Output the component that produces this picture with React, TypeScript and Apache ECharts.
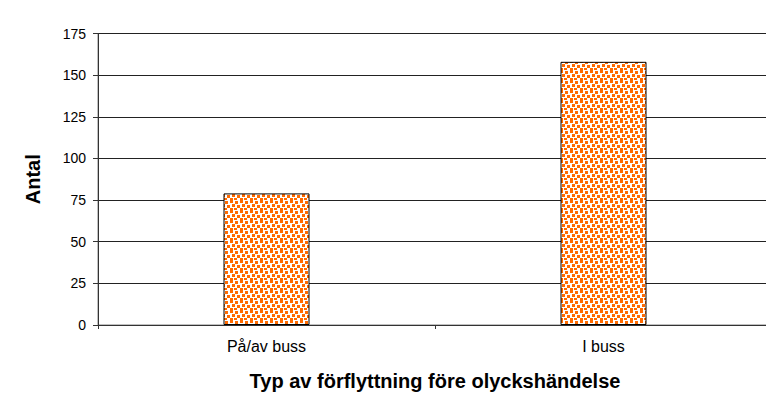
import React, { useEffect, useRef } from "react";
import * as echarts from "echarts";

const categories = ["På/av buss", "I buss"];
const values = [79, 158];
const yMin = 0;
const yMax = 175;
const yInterval = 25;
const xTitle = "Typ av förflyttning före olyckshändelse";
const yTitle = "Antal";

function makePattern(): HTMLCanvasElement {
  const c = document.createElement("canvas");
  c.width = 10;
  c.height = 10;
  const ctx = c.getContext("2d")!;
  ctx.fillStyle = "#ffffff";
  ctx.fillRect(0, 0, 10, 10);
  ctx.fillStyle = "#ff6a00";
  const pts = [
    [0, 0],
    [5, 1],
    [2, 4],
    [7, 5],
    [0, 8],
    [4, 8],
  ];
  pts.forEach(([x, y]) => ctx.fillRect(x, y, 3, 3));
  return c;
}

export default function App() {
  const ref = useRef<HTMLDivElement>(null);
  useEffect(() => {
    if (!ref.current) return;
    const chart = echarts.init(ref.current, null, { renderer: "svg" });
    const font = "'Liberation Sans', Arial, sans-serif";
    chart.setOption({
      animation: false,
      grid: {
        left: 98,
        right: 2,
        top: 33.5,
        bottom: 85,
        containLabel: false,
        show: true,
        borderColor: "#808080",
        borderWidth: 1,
        backgroundColor: "transparent",
      },
      xAxis: {
        type: "category",
        data: categories,
        name: xTitle,
        nameLocation: "middle",
        nameGap: 46,
        nameTextStyle: { fontFamily: font, fontSize: 20, fontWeight: "bold", color: "#000" },
        axisLine: { lineStyle: { color: "#333", width: 1 } },
        axisTick: { show: true, length: 4, alignWithLabel: false, lineStyle: { color: "#333" } },
        axisLabel: { fontFamily: font, fontSize: 16, color: "#000", margin: 13 },
        splitLine: { show: false },
      },
      yAxis: {
        type: "value",
        min: yMin,
        max: yMax,
        interval: yInterval,
        name: yTitle,
        nameLocation: "middle",
        nameGap: 55,
        nameRotate: 90,
        nameTextStyle: { fontFamily: font, fontSize: 20, fontWeight: "bold", color: "#000" },
        axisLine: { show: true, lineStyle: { color: "#333", width: 1 } },
        axisTick: { show: true, length: 5, lineStyle: { color: "#333" } },
        axisLabel: { fontFamily: font, fontSize: 14, color: "#000", margin: 12 },
        splitLine: { show: true, lineStyle: { color: "#222", width: 1 } },
      },
      series: [
        {
          type: "bar",
          data: values,
          barWidth: 86,
          itemStyle: {
            color: { image: makePattern(), repeat: "repeat" },
            borderColor: "#000",
            borderWidth: 1,
          },
        },
      ],
    });
    return () => chart.dispose();
  }, []);
  return (
    <div style={{ position: "relative", width: 774, height: 410, margin: -8, background: "#fff", overflow: "hidden" }}>
      <div
        style={{
          position: "absolute",
          left: 4.5,
          top: 6,
          width: 800,
          height: 500,
          borderLeft: "2px solid #000",
          borderTop: "2px solid #000",
        }}
      />
      <div ref={ref} style={{ position: "absolute", left: 0, top: 0, width: 774, height: 410 }} />
    </div>
  );
}
